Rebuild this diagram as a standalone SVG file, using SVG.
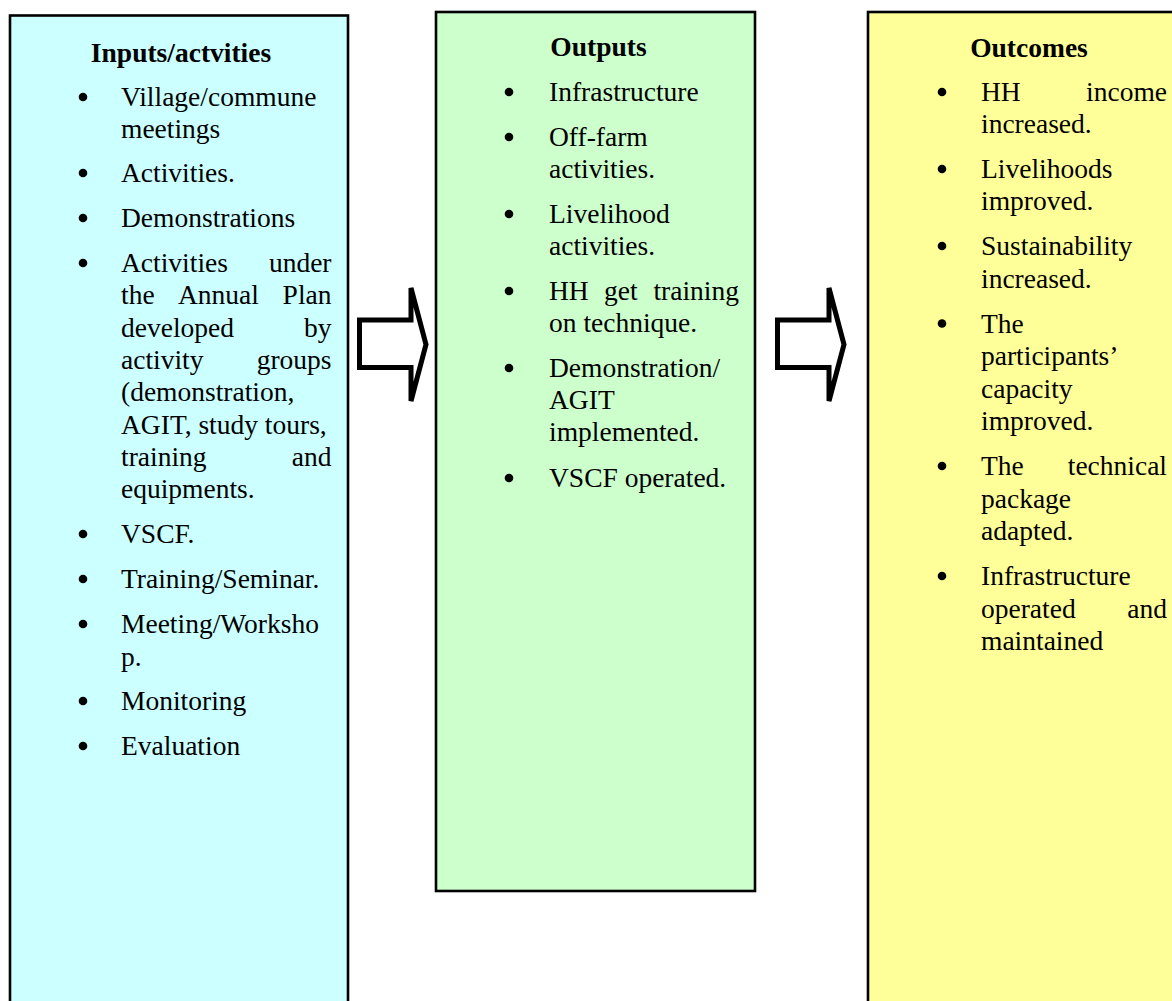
<svg xmlns="http://www.w3.org/2000/svg" width="1172" height="1001" viewBox="0 0 1172 1001">
<style>
.box{stroke:#000;stroke-width:2.6}
.t{font-family:"Liberation Serif","Times New Roman",serif;font-size:27.5px;fill:#000}
.h{font-weight:bold;text-anchor:middle}
.e{text-anchor:end}
.arrow{fill:#fff;stroke:#000;stroke-width:5;stroke-linejoin:miter;stroke-miterlimit:6}
</style>
<defs>
<circle id="b" r="4.3" fill="#000"/>
</defs>
<rect width="1172" height="1001" fill="#fff"/>

<g id="inputs">
<rect class="box" x="10" y="15.5" width="338" height="1000" fill="#CCFFFF"/>
<text class="t h" x="181" y="62">Inputs/actvities</text>
<use href="#b" x="83" y="97"/>
<text class="t" x="121" y="106">Village/commune</text>
<text class="t" x="121" y="138">meetings</text>
<use href="#b" x="83" y="173"/>
<text class="t" x="121" y="182">Activities.</text>
<use href="#b" x="83" y="218"/>
<text class="t" x="121" y="227">Demonstrations</text>
<use href="#b" x="83" y="263"/>
<text class="t" x="121" y="272">Activities</text><text class="t e" x="331.5" y="272">under</text>
<text class="t" x="121" y="304">the</text><text class="t" x="178" y="304">Annual</text><text class="t e" x="331.5" y="304">Plan</text>
<text class="t" x="121" y="336.5">developed</text><text class="t e" x="331.5" y="336.5">by</text>
<text class="t" x="121" y="369">activity</text><text class="t e" x="331.5" y="369">groups</text>
<text class="t" x="121" y="401">(demonstration,</text>
<text class="t" x="121" y="433.5">AGIT, study tours,</text>
<text class="t" x="121" y="466">training</text><text class="t e" x="331.5" y="466">and</text>
<text class="t" x="121" y="498">equipments.</text>
<use href="#b" x="83" y="534"/>
<text class="t" x="121" y="543">VSCF.</text>
<use href="#b" x="83" y="579"/>
<text class="t" x="121" y="588">Training/Seminar.</text>
<use href="#b" x="83" y="624"/>
<text class="t" x="121" y="633">Meeting/Worksho</text>
<text class="t" x="121" y="665.5">p.</text>
<use href="#b" x="83" y="701"/>
<text class="t" x="121" y="710">Monitoring</text>
<use href="#b" x="83" y="746"/>
<text class="t" x="121" y="755">Evaluation</text>
</g>

<g id="outputs">
<rect class="box" x="436" y="12" width="319" height="879" fill="#CCFFCC"/>
<text class="t h" x="598.5" y="56">Outputs</text>
<use href="#b" x="509" y="92"/>
<text class="t" x="549" y="101">Infrastructure</text>
<use href="#b" x="509" y="137"/>
<text class="t" x="549" y="146">Off-farm</text>
<text class="t" x="549" y="178">activities.</text>
<use href="#b" x="509" y="214"/>
<text class="t" x="549" y="223">Livelihood</text>
<text class="t" x="549" y="255">activities.</text>
<use href="#b" x="509" y="291"/>
<text class="t" x="549" y="300">HH</text><text class="t" x="604" y="300">get</text><text class="t e" x="739" y="300">training</text>
<text class="t" x="549" y="332">on technique.</text>
<use href="#b" x="509" y="368"/>
<text class="t" x="549" y="377">Demonstration/</text>
<text class="t" x="549" y="409">AGIT</text>
<text class="t" x="549" y="441">implemented.</text>
<use href="#b" x="509" y="478"/>
<text class="t" x="549" y="487">VSCF operated.</text>
</g>

<g id="outcomes">
<rect class="box" x="868" y="12" width="330" height="1000" fill="#FFFF99"/>
<text class="t h" x="1029" y="57">Outcomes</text>
<use href="#b" x="942" y="92"/>
<text class="t" x="981" y="101">HH</text><text class="t e" x="1167" y="101">income</text>
<text class="t" x="981" y="133">increased.</text>
<use href="#b" x="942" y="169"/>
<text class="t" x="981" y="178">Livelihoods</text>
<text class="t" x="981" y="210">improved.</text>
<use href="#b" x="942" y="246"/>
<text class="t" x="981" y="255">Sustainability</text>
<text class="t" x="981" y="287.5">increased.</text>
<use href="#b" x="942" y="323.5"/>
<text class="t" x="981" y="332.5">The</text>
<text class="t" x="981" y="365">participants’</text>
<text class="t" x="981" y="397.5">capacity</text>
<text class="t" x="981" y="430">improved.</text>
<use href="#b" x="942" y="466"/>
<text class="t" x="981" y="475">The</text><text class="t e" x="1167" y="475">technical</text>
<text class="t" x="981" y="507.5">package</text>
<text class="t" x="981" y="540">adapted.</text>
<use href="#b" x="942" y="576"/>
<text class="t" x="981" y="585">Infrastructure</text>
<text class="t" x="981" y="617.5">operated</text><text class="t e" x="1167" y="617.5">and</text>
<text class="t" x="981" y="650">maintained</text>
</g>

<g id="connectors">
<polygon class="arrow" points="359.5,320 411,320 411,288 426,344.5 411,401 411,367.5 359.5,367.5"/>
<polygon class="arrow" points="777.5,320 829,320 829,288 844,344.5 829,401 829,367.5 777.5,367.5"/>
</g>
</svg>
